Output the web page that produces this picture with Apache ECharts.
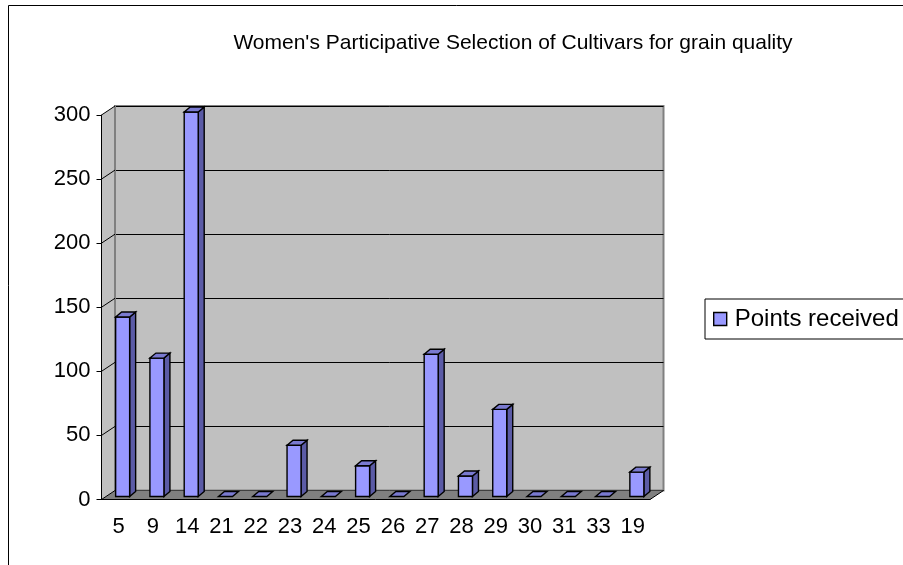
<!DOCTYPE html>
<html>
<head>
<meta charset="utf-8">
<script src="https://cdn.jsdelivr.net/npm/echarts@6/dist/echarts.min.js"></script>
<style>
  html, body { margin: 0; padding: 0; background: #fff; }
  #chart { width: 903px; height: 565px; }
</style>
</head>
<body>
<div id="chart"></div>
<script>
// data
const categories = ['5', '9', '14', '21', '22', '23', '24', '25', '26', '27', '28', '29', '30', '31', '33', '19']
const points = [140, 108, 300, 0, 0, 40, 0, 24, 0, 111, 16, 68, 0, 0, 0, 19]
const yMin = 0
const yMax = 300
const yStep = 50

const FONT = '"Liberation Sans", Arial, sans-serif'
// depth of the back wall (excel 3d look)
const DX = 13.5
const DY = -9

const front = { left: 101.5, top: 115, width: 548.5, height: 384.5 }
const back = { left: front.left + DX, top: front.top + DY, width: front.width, height: front.height }

const chart = echarts.init(document.getElementById('chart'))

// one 3d column: front face, right side, top face
function renderBox(params, api) {
  const top = api.coord([api.value(0), api.value(1)])
  const base = api.coord([api.value(0), 0])
  const w = 14, dx = 6, dy = -5
  const x = top[0] - 3
  const y = top[1] - 3
  const yb = base[1] - 3
  const line = { stroke: '#000', lineWidth: 1.4 }
  const kids = []
  if (yb - y > 0.5) {
    kids.push({
      type: 'polygon',
      shape: { points: [[x + w, y], [x + w + dx, y + dy], [x + w + dx, yb + dy], [x + w, yb]] },
      style: Object.assign({ fill: '#5B5BA6' }, line),
    })
    kids.push({
      type: 'rect',
      shape: { x: x, y: y, width: w, height: yb - y },
      style: Object.assign({ fill: '#9999FF' }, line),
    })
  }
  kids.push({
    type: 'polygon',
    shape: { points: [[x, y], [x + dx, y + dy], [x + w + dx, y + dy], [x + w, y]] },
    style: Object.assign({ fill: '#7A7AD0' }, line),
  })
  return { type: 'group', children: kids }
}

chart.setOption({
  animation: false,
  title: {
    text: "Women's Participative Selection of Cultivars for grain quality",
    left: 508,
    textAlign: 'center',
    top: 28,
    textStyle: { fontFamily: FONT, fontSize: 21, fontWeight: 'normal', color: '#000' },
  },
  legend: {
    left: 705,
    top: 299,
    orient: 'vertical',
    padding: [4, 12, 4, 8],
    backgroundColor: '#fff',
    borderColor: '#000',
    borderWidth: 1,
    borderRadius: 0,
    itemWidth: 13,
    itemHeight: 13,
    icon: 'rect',
    textStyle: { fontFamily: FONT, fontSize: 24, lineHeight: 24, color: '#000', padding: [0, 0, 8, 3] },
    data: [{ name: 'Points received', itemStyle: { color: '#9999FF', borderColor: '#000', borderWidth: 1.4 } }],
  },
  grid: [
    // front: axes and columns
    { left: front.left, top: front.top, width: front.width, height: front.height },
    // back wall
    {
      left: back.left, top: back.top, width: back.width, height: back.height,
      show: true, backgroundColor: '#C0C0C0', borderColor: '#808080', borderWidth: 2,
    },
  ],
  xAxis: [
    {
      gridIndex: 0,
      type: 'category',
      data: categories,
      boundaryGap: true,
      axisLine: { lineStyle: { color: '#000', width: 1 } },
      axisTick: { length: 5, lineStyle: { color: '#000' } },
      axisLabel: { fontFamily: FONT, fontSize: 22, color: '#000', margin: 16, interval: 0 },
      splitLine: { show: false },
      z: 6,
    },
    { gridIndex: 1, type: 'category', data: categories, show: false },
  ],
  yAxis: [
    {
      gridIndex: 0,
      type: 'value',
      min: yMin, max: yMax, interval: yStep,
      axisLine: { show: true, lineStyle: { color: '#000', width: 1 } },
      axisTick: { show: true, length: 5, lineStyle: { color: '#000' } },
      axisLabel: { fontFamily: FONT, fontSize: 22, color: '#000', margin: 11 },
      splitLine: { show: false },
      z: 6,
    },
    {
      gridIndex: 1,
      type: 'value',
      min: yMin, max: yMax, interval: yStep,
      axisLine: { show: false },
      axisTick: { show: false },
      axisLabel: { show: false },
      splitLine: { lineStyle: { color: '#000', width: 1 } },
    },
  ],
  series: [
    {
      name: 'Points received',
      type: 'custom',
      xAxisIndex: 0,
      yAxisIndex: 0,
      clip: false,
      z: 5,
      itemStyle: { color: '#9999FF', borderColor: '#000' },
      renderItem: renderBox,
      encode: { x: 0, y: 1 },
      data: points.map((v, i) => [i, v]),
    },
  ],
})

// side wall, floor and the little tick diagonals
const gfx = []
const x0 = front.left, x1 = front.left + front.width
const yb0 = chart.convertToPixel({ yAxisIndex: 0 }, yMin)
const yt0 = chart.convertToPixel({ yAxisIndex: 0 }, yMax)
gfx.push({
  type: 'polygon', z: 1, silent: true,
  shape: { points: [[x0, yt0], [x0 + DX, yt0 + DY], [x0 + DX, yb0 + DY], [x0, yb0]] },
  style: { fill: '#C0C0C0' },
})
gfx.push({
  type: 'polygon', z: 1, silent: true,
  shape: { points: [[x0, yb0], [x0 + DX, yb0 + DY], [x1 + DX, yb0 + DY], [x1, yb0]] },
  style: { fill: '#808080' },
})
gfx.push({
  type: 'line', z: 2, silent: true,
  shape: { x1: x0 + DX, y1: yt0 + DY, x2: x0 + DX, y2: yb0 + DY },
  style: { stroke: '#808080', lineWidth: 2 },
})
for (let v = yMin; v <= yMax; v += yStep) {
  const yy = chart.convertToPixel({ yAxisIndex: 0 }, v)
  gfx.push({
    type: 'line', z: 2, silent: true,
    shape: { x1: x0, y1: yy, x2: x0 + DX, y2: yy + DY },
    style: { stroke: '#000', lineWidth: 1 },
  })
}
gfx.push({
  type: 'line', z: 6, silent: true,
  shape: { x1: x1, y1: yb0, x2: x1 + DX, y2: yb0 + DY },
  style: { stroke: '#000', lineWidth: 1 },
})
// chart area border (right and bottom edges are off screen)
gfx.push({
  type: 'rect', z: 0, silent: true,
  shape: { x: 8.5, y: 5.5, width: 1000, height: 1000 },
  style: { fill: null, stroke: '#000', lineWidth: 1 },
})
chart.setOption({ graphic: gfx })
</script>
</body>
</html>
